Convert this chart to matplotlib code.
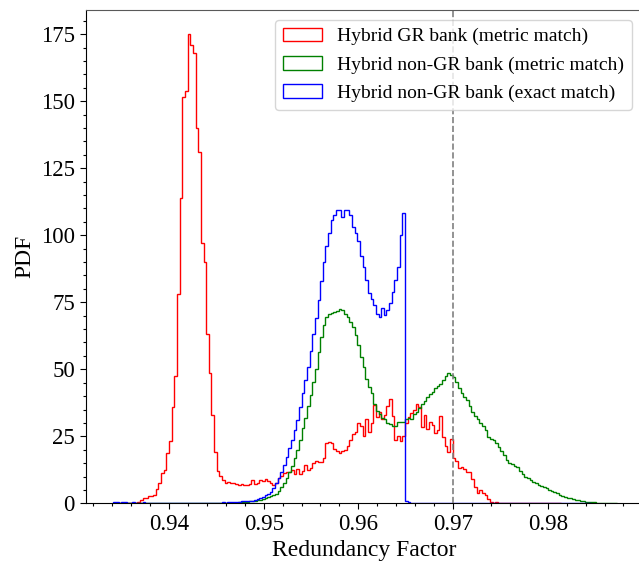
import numpy as np
import matplotlib
matplotlib.use("Agg")
import matplotlib.pyplot as plt
from matplotlib.ticker import MultipleLocator

plt.rcParams["font.family"] = ["Liberation Serif", "DejaVu Serif"]

# histogram bins (common to all three series)
bin_start = 0.93413
bin_width = 0.00028

# PDF values per bin
red = [
    0, 0, 0, 0, 0, 0, 0, 0, 0,
    0.5, 1.2, 2.0, 2.0, 2.7, 2.8, 3.0, 5.2, 7.4, 11.2,
    12.4, 18.6, 23.3, 35.8, 47.5, 78, 114, 151.6, 154, 175,
    171, 168, 140, 131, 97, 90, 63, 48.5, 33, 19,
    12.2, 10.2, 8.7, 7.7, 7.9, 7.6, 7.7, 7.3, 7.0, 7.3,
    6.7, 6.9, 7.3, 8.7, 7.3, 7.7, 8.7, 8.2, 9.0, 8.5,
    7.7, 7.0, 7.6, 9.5, 10.2, 11.2, 11.5, 11.8, 12.6, 11.0,
    12.9, 11.0, 12.2, 14.3, 12.5, 13.3, 14.9, 15.9, 15.5, 15.5,
    16.8, 22.6, 23.0, 22.5, 20.1, 19.5, 18.9, 19.5, 19.9, 21.2,
    23.7, 26.0, 26.5, 30.1, 29.0, 25.1, 31.4, 26.5, 30.0, 36.6,
    32.3, 34.0, 31.5, 33.0, 36.3, 38.8, 32.5, 23.6, 25.1, 23.3,
    25.0, 30.0, 32.3, 33.8, 34.8, 37.0, 36.0, 28.6, 32.9, 27.9,
    30.5, 29.2, 26.1, 27.3, 32.5, 24.9, 21.4, 19.3, 23.9, 16.8,
    15.9, 13.0, 13.4, 12.7, 11.8, 11.5, 9.0, 6.0, 3.7, 5.0,
    4.0, 3.1, 1.5, 0.6, 0.3, 0.4, 0.3, 0.2, 0.1, 0.2,
    0.1, 0.3, 0.1, 0.3, 0, 0, 0, 0, 0, 0,
    0, 0, 0, 0, 0.3, 0, 0, 0, 0, 0,
]

green = [
    0, 0, 0, 0, 0, 0, 0, 0, 0, 0,
    0, 0, 0, 0, 0, 0, 0, 0, 0, 0,
    0, 0, 0, 0, 0, 0, 0, 0, 0, 0,
    0, 0, 0, 0, 0, 0, 0, 0, 0, 0,
    0.1, 0.1, 0.1, 0.2, 0.2, 0.3, 0.3, 0.4, 0.5, 0.5, 0.6, 0.7,
    0.8, 1.0, 1.2, 1.4, 1.7, 2.0, 2.4, 2.6, 3.0, 3.4,
    4.7, 6.2, 7.7, 9.6, 11.8, 14.0, 16.9, 19.9, 23.6, 28.0,
    31.7, 36.4, 40.3, 45.4, 50.0, 56.6, 62.0, 66.5, 69.5, 70.5,
    71.0, 71.4, 71.8, 72.5, 72.0, 70.8, 69.6, 67.7, 65.8, 62.7,
    59.0, 54.7, 50.7, 46.5, 43.5, 41.0, 37.0, 34.6, 33.5, 32.0,
    31.3, 30.0, 29.6, 28.8, 29.0, 30.4, 30.4, 30.4, 31.3, 32.0,
    31.5, 33.5, 34.2, 35.4, 37.0, 38.0, 39.7, 40.7, 41.6, 43.0,
    43.7, 44.7, 46.0, 47.5, 48.5, 48.0, 47.0, 45.4, 42.9, 41.0,
    39.5, 38.5, 36.3, 34.2, 32.5, 31.3, 30.1, 28.8, 27.3, 24.6,
    23.9, 23.5, 22.6, 21.1, 19.6, 18.0, 16.1, 14.9, 14.7, 13.9,
    13.6, 12.2, 10.9, 9.7, 9.5, 8.8, 8.0, 7.5, 7.0, 6.5,
    6.0, 5.6, 5.1, 4.6, 4.2, 3.7, 3.2, 2.8, 2.4, 2.1,
    1.8, 1.5, 1.3, 1.1, 0.9, 0.8, 0.6, 0.5, 0.4, 0.35,
    0.3, 0.2, 0.15, 0.1, 0.08, 0.05, 0.03, 0.02,
]

blue = [
    0.4, 0.4, 0.3, 0.4, 0.4, 0.3, 0.3, 0.4, 0.3, 0.3,
    0.3, 0.4, 0.3, 0.3, 0.3, 0.3, 0.2, 0.3, 0.3, 0.2,
    0.3, 0.3, 0.2, 0.2, 0.3, 0.2, 0.3, 0.2, 0.2, 0.3,
    0.2, 0.2, 0.3, 0.2, 0.3, 0.3, 0.2, 0.3, 0.3, 0.3,
    0.3, 0.4, 0.3, 0.4, 0.4,
    0.4, 0.5, 0.6, 0.7, 0.8, 0.9, 0.9, 1.0, 1.2, 1.7,
    2.1, 2.5, 3.0, 3.6, 4.4, 5.6, 7.7, 9.4, 11.5, 14.4,
    17.4, 20.5, 23.6, 27.3, 31.0, 36.0, 41.0, 46.0, 51.0, 57.0,
    63, 69, 76, 83, 90, 96, 101, 105.6, 107.5, 109.6,
    109.6, 106.8, 109.6, 109.3, 107.5, 103, 101, 98, 92.2, 88.2,
    83.3, 78.3, 76.4, 73.9, 70.8, 69.6, 72.7, 70.2, 72.1, 74.6,
    78.9, 83.3, 88.2, 100, 108.5, 1.0, 0.4, 0.3, 0.3, 0.2,
    0.3, 0.2, 0.3, 0.3, 0.2, 0.3, 0.2, 0.2, 0.3, 0.2,
    0.3, 0.2, 0.2, 0.3, 0.2, 0.2, 0.3, 0.2, 0.2, 0.3,
    0.2, 0.2, 0.3, 0.2, 0.2, 0.2, 0.3, 0.2, 0.2, 0.2,
    0.2, 0.3, 0.2, 0.2, 0.2, 0.2, 0.2, 0.3, 0.2, 0.2,
    0.2, 0.2, 0.2, 0.2, 0.2, 0.3, 0.2, 0.2, 0.2, 0.2,
    0.2, 0.2, 0.2, 0.2, 0.2, 0.2, 0.2, 0.2, 0.2, 0.2,
    0.2, 0.2, 0.2, 0.2, 0.2,
]

labels = ["Hybrid GR bank (metric match)",
          "Hybrid non-GR bank (metric match)",
          "Hybrid non-GR bank (exact match)"]
colors = ["red", "green", "blue"]
threshold = 0.97

fig = plt.figure(figsize=(6.39, 5.63), dpi=100)
ax = fig.add_axes([0.1346, 0.106, 0.870, 0.876])

for vals, lab, col in zip([red, green, blue], labels, colors):
    edges = bin_start + bin_width * np.arange(len(vals) + 1)
    centers = 0.5 * (edges[:-1] + edges[1:])
    ax.hist(centers, bins=edges, weights=vals, histtype="step",
            color=col, lw=1.0, label=lab)

ax.axvline(threshold, color="gray", ls="--", lw=1.2)

ax.set_xlim(0.93124, 0.98995)
ax.set_ylim(0, 184)
ax.xaxis.set_major_locator(MultipleLocator(0.01))
ax.xaxis.set_minor_locator(MultipleLocator(0.002))
ax.yaxis.set_major_locator(MultipleLocator(25))
ax.yaxis.set_minor_locator(MultipleLocator(5))
ax.tick_params(which="major", direction="out", length=4.5, width=0.8, labelsize=16.5)
ax.tick_params(which="minor", direction="out", length=2.5, width=0.8)
ax.spines["top"].set_color("0.35")

ax.set_xlabel("Redundancy Factor", fontsize=17, labelpad=3.5)
ax.set_ylabel("PDF", fontsize=17, labelpad=4)
ax.legend(loc="upper right", fontsize=14, labelspacing=0.55)

fig.savefig("out.png", dpi=100)
